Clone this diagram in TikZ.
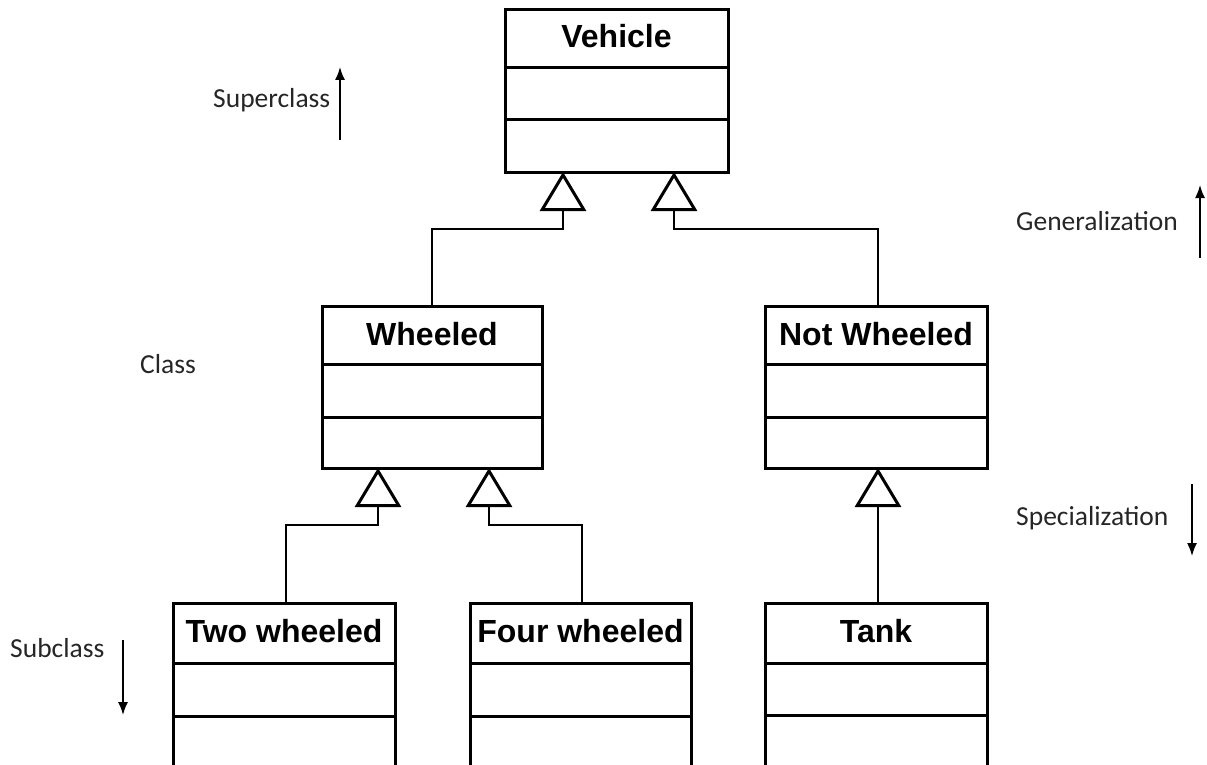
\documentclass[tikz,border=0pt]{standalone}
\usepackage{fontspec}
\setmainfont{Liberation Sans}
\newfontfamily\labelfont{Carlito}
\usetikzlibrary{arrows.meta,calc}
\begin{document}
\begin{tikzpicture}[x=1pt,y=-1pt,
  cls/.style={draw=black,line width=3pt,inner sep=0pt,outer sep=0pt,anchor=north west},
  div/.style={draw=black,line width=3pt},
  ttl/.style={font=\bfseries\fontsize{32}{38}\selectfont,anchor=base,inner sep=0pt},
  lbl/.style={font=\labelfont\fontsize{27.5}{33}\selectfont,anchor=base west,inner sep=0pt,text=black!85},
  gen/.style={draw=black,line width=1.5pt,-{Triangle[open,length=39pt,width=46pt,line width=3pt]}},
  dirarrow/.style={draw=black,line width=1.6pt,-{Latex[length=13pt,width=10pt]}}
]
\clip (0,0) rectangle (1207,765);
\fill[white] (0,0) rectangle (1207,765);

% classes
\node[cls,minimum width=223pt,minimum height=162pt] (vehicle) at (505,10) {};
\node[cls,minimum width=220pt,minimum height=162pt] (wheeled) at (322,306) {};
\node[cls,minimum width=222pt,minimum height=162pt] (notwheeled) at (765,306) {};
\node[cls,minimum width=222pt,minimum height=170pt] (two) at (173,603) {};
\node[cls,minimum width=221pt,minimum height=170pt] (four) at (470,603) {};
\node[cls,minimum width=222pt,minimum height=170pt] (tank) at (765,603) {};

% titles
\node[ttl] (vehicle-t) at ($(vehicle.north)+(0,38)$) {Vehicle};
\node[ttl] (wheeled-t) at ($(wheeled.north)+(0,39)$) {Wheeled};
\node[ttl] (notwheeled-t) at ($(notwheeled.north)+(0,39)$) {Not Wheeled};
\node[ttl] (two-t) at ($(two.north)+(0,39)$) {Two wheeled};
\node[ttl] (four-t) at ($(four.north)+(0,39)$) {Four wheeled};
\node[ttl] (tank-t) at ($(tank.north)+(0,39)$) {Tank};

% compartments
\foreach \n/\a/\b in {vehicle/58/110, wheeled/58/111, notwheeled/58/111, two/60/113, four/60/113, tank/60/112}{
  \draw[div] ($(\n.north west)+(0,\a)$) -- ($(\n.north east)+(0,\a)$);
  \draw[div] ($(\n.north west)+(0,\b)$) -- ($(\n.north east)+(0,\b)$);
}

% inheritance connectors
\coordinate (v-l) at ($(vehicle.south west)+(58,0)$);
\coordinate (v-r) at ($(vehicle.south east)+(-54,0)$);
\coordinate (w-l) at ($(wheeled.south west)+(56,0)$);
\coordinate (w-r) at ($(wheeled.south east)+(-53,0)$);
\coordinate (nw-c) at ($(notwheeled.south)+(2,0)$);
\coordinate (nw-top) at ($(notwheeled.north)+(2,0)$);
\coordinate (two-top) at ($(two.north)+(2,0)$);
\coordinate (four-top) at ($(four.north)+(1.5,0)$);
\coordinate (tank-top) at ($(tank.north)+(2,0)$);

\draw[gen] (wheeled.north) -- (wheeled.north |- 0,229) -| (v-l);
\draw[gen] (nw-top) -- (nw-top |- 0,229) -| (v-r);
\draw[gen] (two-top) -- (two-top |- 0,525) -| (w-l);
\draw[gen] (four-top) -- (four-top |- 0,525) -| (w-r);
\draw[gen] (tank-top) -- (nw-c);

% side labels
\node[lbl] (superclass) at (213,108) {Superclass};
\node[lbl] (class) at (140,373) {Class};
\node[lbl] (subclass) at (10,657) {Subclass};
\node[lbl] (generalization) at (1016,230) {Generalization};
\node[lbl] (specialization) at (1016,525) {Specialization};

\coordinate (sup-a) at (340,140);
\coordinate (sup-b) at (340,67);
\coordinate (gen-a) at (1200,258);
\coordinate (gen-b) at (1200,185);
\coordinate (spe-a) at (1192,484);
\coordinate (spe-b) at (1192,556);
\coordinate (sub-a) at (123,640);
\coordinate (sub-b) at (123,715);
\draw[dirarrow] (sup-a) -- (sup-b);
\draw[dirarrow] (gen-a) -- (gen-b);
\draw[dirarrow] (spe-a) -- (spe-b);
\draw[dirarrow] (sub-a) -- (sub-b);
\end{tikzpicture}
\end{document}
